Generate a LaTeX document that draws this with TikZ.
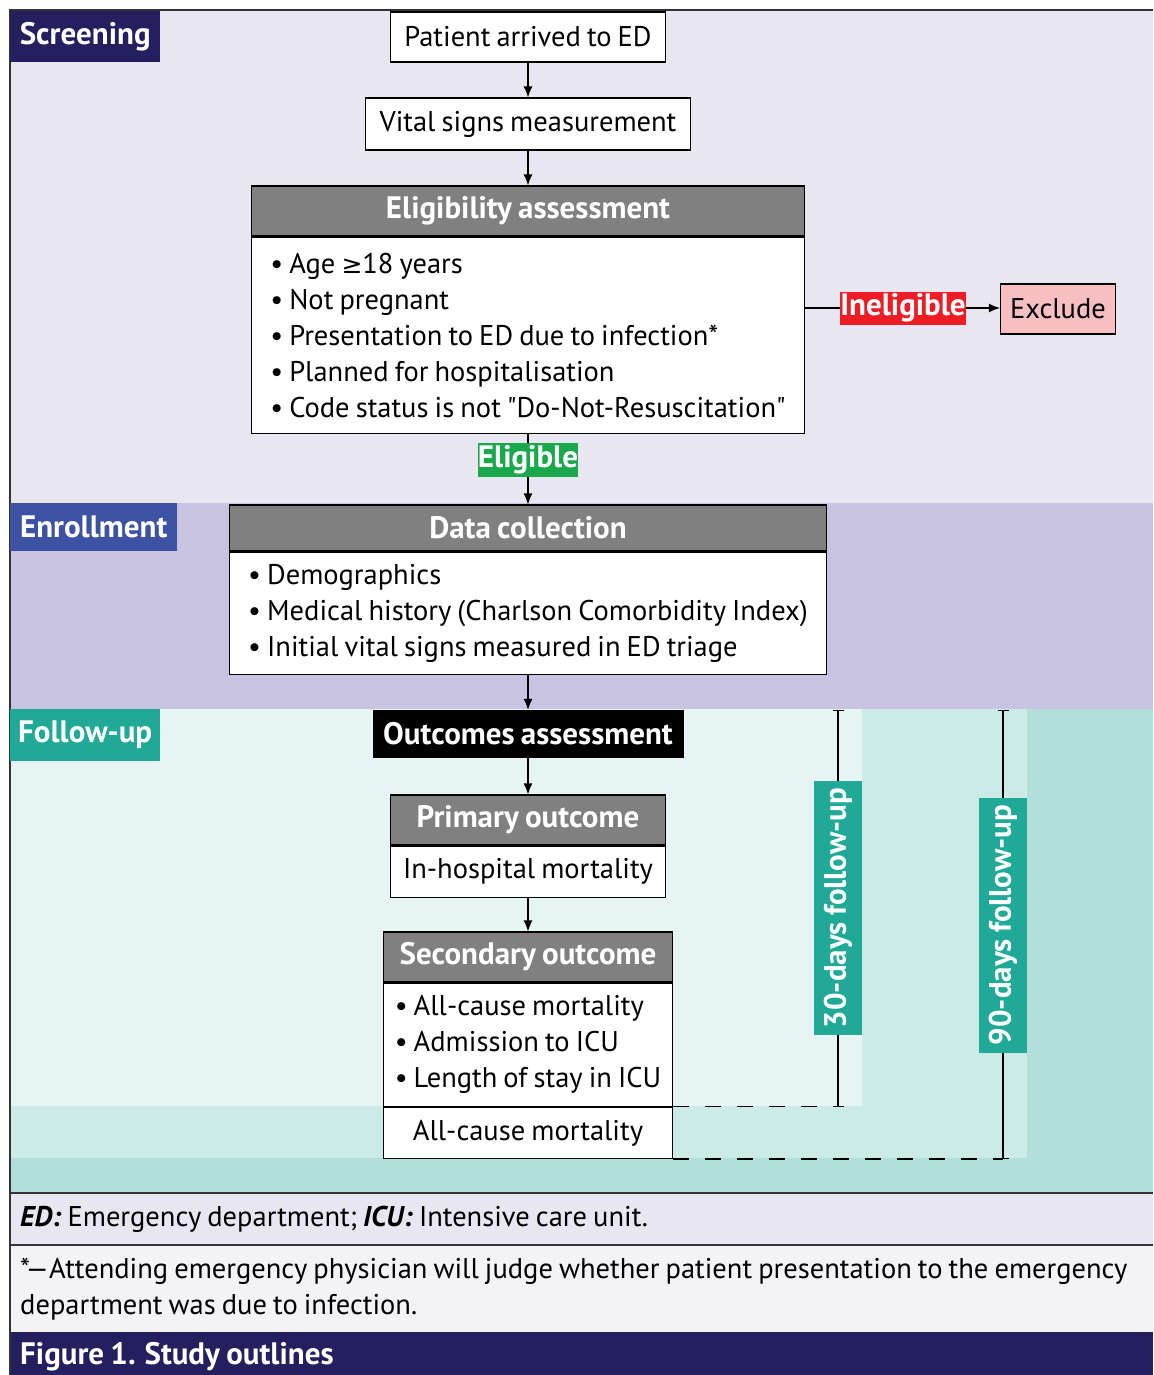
\documentclass[tikz,border=0pt]{standalone}
\usepackage{fontspec}
\setmainfont{PT Sans}[Ligatures=TeXOff,WordSpace=0.8]
\newfontfamily\symfont{DejaVu Sans}
\usetikzlibrary{positioning,calc,arrows.meta}
\definecolor{scrbg}{HTML}{E8E6F0}
\definecolor{enrbg}{HTML}{C8C3E1}
\definecolor{fuone}{HTML}{E6F4F3}
\definecolor{futwo}{HTML}{CCEBE6}
\definecolor{futhree}{HTML}{B2DFDA}
\definecolor{navy}{HTML}{241F5F}
\definecolor{enrblue}{HTML}{3E52A3}
\definecolor{teal}{HTML}{1FA996}
\definecolor{hdgray}{HTML}{808080}
\definecolor{inred}{HTML}{EE1C25}
\definecolor{expink}{HTML}{F8BFC3}
\definecolor{elgreen}{HTML}{1AA84C}
\definecolor{notebg}{HTML}{F3F2F7}
\newcommand{\txtsize}{\fontsize{28.5}{36}\selectfont}
\newcommand{\hdsize}{\fontsize{31}{36}\selectfont\bfseries}
\newcommand{\itm}{\textbullet\ }
\tikzset{
  box/.style={draw=black,line width=1.2pt,fill=white,inner sep=0pt,font=\txtsize},
  listbox/.style={box,align=left},
  hdbox/.style={draw=black,line width=1.2pt,fill=hdgray,text=white,inner sep=0pt,font=\hdsize},
  tag/.style={inner sep=0pt,text=white,font=\hdsize,anchor=north west},
  flag/.style={inner sep=0pt,text=white,font=\hdsize},
  arr/.style={line width=1.2pt,-{Latex[length=11pt,width=9pt]}},
  span/.style={line width=1.2pt,{Bar[width=11pt]}-{Bar[width=11pt]}},
  dashline/.style={line width=1.2pt,dash pattern=on 16pt off 16pt}
}
\begin{document}
\begin{tikzpicture}[x=1pt,y=-1pt]
  \useasboundingbox (0,0) rectangle (1153,1375);
  % bands
  \fill[scrbg] (10,10) rectangle (1153,503);
  \fill[enrbg] (10,503) rectangle (1153,709);
  \fill[futhree] (10,709) rectangle (1153,1193);
  \fill[futwo] (10,709) rectangle (1027,1158);
  \fill[fuone] (10,709) rectangle (862,1106);
  \fill[scrbg] (10,1193) rectangle (1153,1245);
  \fill[notebg] (10,1245) rectangle (1153,1332);
  \fill[navy] (10,1332) rectangle (1153,1375);
  \draw[line width=1.5pt,black!80] (1153,10) -- (10,10) -- (10,1375);
  \draw[line width=1.5pt,black!80] (10,1193) -- (1153,1193);
  \draw[line width=1.5pt,black!80] (10,1245) -- (1153,1245);

  % phase tags
  \node[tag,fill=navy,minimum width=150pt,minimum height=51pt] (tscr) at (10,11) {Screening};
  \node[tag,fill=enrblue,minimum width=167pt,minimum height=48pt] (tenr) at (10,503) {Enrollment};
  \node[tag,fill=teal,minimum width=150pt,minimum height=52pt] (tfu) at (10,709) {Follow-up};

  % screening
  \node[box,minimum width=275pt,minimum height=50pt] (arrive) at (528,37) {Patient arrived to ED};
  \node[box,minimum width=325pt,minimum height=52pt] (vital) at (528,124) {Vital signs measurement};
  \node[hdbox,minimum width=553pt,minimum height=50pt] (elig) at (528,211) {Eligibility assessment};
  \node[listbox,minimum width=553pt,minimum height=196pt,below=0pt of elig] (eligb)
    {\itm Age {\symfont\fontsize{25}{36}\selectfont ≥}18 years\\
     \itm Not pregnant\\
     \itm Presentation to ED due to infection*\\
     \itm Planned for hospitalisation\\
     \itm Code status is not "Do-Not-Resuscitation"};
  \node[flag,fill=inred,minimum width=124pt,minimum height=33pt] (inel) at (903,308) {Ineligible};
  \node[box,fill=expink,minimum width=115pt,minimum height=50pt] (excl) at (1058,309) {Exclude};
  \node[flag,fill=elgreen,minimum width=99pt,minimum height=34pt] (elg) at (528,460) {Eligible};

  % enrollment
  \node[hdbox,minimum width=597pt,minimum height=46pt] (data) at (528,528) {Data collection};
  \node[listbox,minimum width=597pt,minimum height=122pt,below=0pt of data] (datab)
    {\itm Demographics\\
     \itm Medical history (Charlson Comorbidity Index)\\
     \itm Initial vital signs measured in ED triage};

  % follow-up
  \node[flag,fill=black,minimum width=311pt,minimum height=48pt] (outc) at (528,734) {Outcomes assessment};
  \node[hdbox,minimum width=275pt,minimum height=50pt] (prim) at (528,820) {Primary outcome};
  \node[box,minimum width=275pt,minimum height=51pt,below=0pt of prim] (primb) {In-hospital mortality};
  \node[hdbox,minimum width=289pt,minimum height=50pt] (sec) at (528,957) {Secondary outcome};
  \node[listbox,minimum width=289pt,minimum height=123pt,below=0pt of sec] (secb)
    {\itm All-cause mortality\\
     \itm Admission to ICU\\
     \itm Length of stay in ICU};
  \node[box,minimum width=289pt,minimum height=51pt,below=0pt of secb] (allc) {All-cause mortality};

  % connectors
  \draw[arr] (arrive) -- (vital);
  \draw[arr] (vital) -- (elig);
  \draw[line width=1.2pt] (eligb) -- (elg);
  \draw[arr] (elg) -- (data);
  \draw[line width=1.2pt] (eligb.east |- inel) -- (inel);
  \draw[arr] (inel) -- (excl.west |- inel);
  \draw[arr] (datab) -- (outc);
  \draw[arr] (outc) -- (prim);
  \draw[arr] (primb) -- (sec);

  % follow-up spans
  \coordinate (top30) at (838,710);
  \coordinate (top90) at (1003,710);
  \coordinate (bot30) at (top30 |- secb.south);
  \coordinate (bot90) at (top90 |- allc.south);
  \draw[span] (top30) -- (bot30);
  \draw[span] (top90) -- (bot90);
  \draw[dashline] (secb.south east) -- (bot30);
  \draw[dashline] (allc.south east) -- (bot90);
  \node[flag,fill=teal,rotate=90,minimum width=254pt,minimum height=48pt] (fu30) at (838,908) {30-days follow-up};
  \node[flag,fill=teal,rotate=90,minimum width=255pt,minimum height=48pt] (fu90) at (1003,925) {90-days follow-up};

  % notes
  \node[anchor=west,inner sep=0pt,font=\txtsize] (abbr) at (20,1219)
    {\textbf{\textit{ED:}} Emergency department; \textbf{\textit{ICU:}} Intensive care unit.};
  \node[anchor=north west,inner sep=0pt,align=left,font=\txtsize] (fnote) at (20,1258)
    {*—Attending emergency physician will judge whether patient presentation to the emergency\\
     department was due to infection.};
  \node[anchor=west,inner sep=0pt,text=white,font=\hdsize] (figcap) at (20,1357) {Figure 1. Study outlines};
\end{tikzpicture}
\end{document}
